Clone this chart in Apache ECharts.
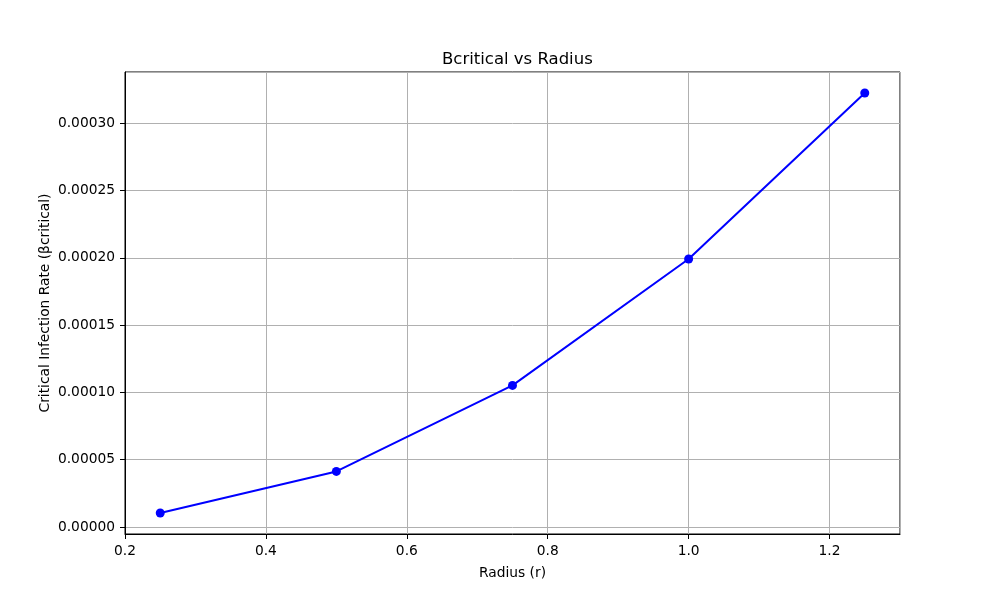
<!DOCTYPE html>
<html>
<head>
<meta charset="utf-8">
<script src="https://cdn.jsdelivr.net/npm/echarts@6/dist/echarts.min.js"></script>
<style>html,body{margin:0;padding:0;background:#fff}#c{width:1000px;height:600px}</style>
</head>
<body>
<div id="c"></div>
<script>
const radius = [0.25, 0.5, 0.75, 1.0, 1.25];
const betaCritical = [0.0000104, 0.0000413, 0.0001052, 0.0001991, 0.0003224];
const xRange = [0.2, 1.3];
const yRange = [-0.0000052, 0.000338];

const font = 'DejaVu Sans';
const chart = echarts.init(document.getElementById('c'), null, {renderer: 'canvas'});
chart.setOption({
  animation: false,
  backgroundColor: '#fff',
  title: {
    text: 'Bcritical vs Radius',
    left: 437, top: 46,
    textStyle: {fontFamily: font, fontSize: 16.5, fontWeight: 'normal', color: '#000'}
  },
  grid: {left: 125, right: 100, top: 72, bottom: 66, show: true, borderColor: '#000', borderWidth: 1, containLabel: false},
  xAxis: {
    type: 'value', min: xRange[0], max: xRange[1], interval: 0.2,
    name: 'Radius (r)', nameLocation: 'middle', nameGap: 32,
    nameTextStyle: {fontFamily: font, fontSize: 13.8, color: '#000'},
    axisLine: {show: true, onZero: false, lineStyle: {color: '#000', width: 1}},
    axisTick: {show: true, inside: false, length: 5, lineStyle: {color: '#000'}},
    axisLabel: {fontFamily: font, fontSize: 13.8, color: '#000', margin: 10, showMaxLabel: false,
      formatter: v => v.toFixed(1)},
    splitLine: {show: true, lineStyle: {color: '#b0b0b0', width: 1}}
  },
  yAxis: {
    type: 'value', min: yRange[0], max: yRange[1], splitNumber: 5,
    name: 'Critical Infection Rate (βcritical)', nameLocation: 'middle', nameGap: 73,
    nameMoveOverlap: false,
    nameTextStyle: {fontFamily: font, fontSize: 13.8, color: '#000'},
    axisLine: {show: true, onZero: false, lineStyle: {color: '#000', width: 1}},
    axisTick: {show: true, inside: false, length: 5, lineStyle: {color: '#000'}},
    axisLabel: {fontFamily: font, fontSize: 13.8, color: '#000', margin: 10, showMinLabel: false, showMaxLabel: false,
      formatter: v => v.toFixed(5)},
    splitLine: {show: true, lineStyle: {color: '#b0b0b0', width: 1}}
  },
  series: [{
    type: 'line',
    data: radius.map((r, i) => [r, betaCritical[i]]),
    symbol: 'circle', symbolSize: 9,
    lineStyle: {color: '#0000ff', width: 2},
    itemStyle: {color: '#0000ff'},
    showAllSymbol: true
  }]
});
</script>
</body>
</html>
